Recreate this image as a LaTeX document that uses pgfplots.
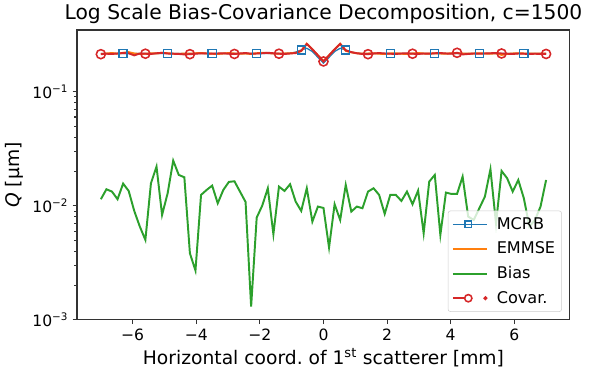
\documentclass[border=0pt]{standalone}
\usepackage{fontspec}
\setmainfont{DejaVu Sans}
\usepackage{pgfplots}
\usepackage{pgfplotstable}
\pgfplotsset{compat=1.18}
\definecolor{tabblue}{HTML}{1F77B4}
\definecolor{taborange}{HTML}{FF7F0E}
\definecolor{tabgreen}{HTML}{2CA02C}
\definecolor{tabred}{HTML}{D62728}
\pgfplotstableread{
x mcrb emmse bias covar
-7.000 0.216 0.214 0.01142 0.213
-6.825 0.216 0.216 0.01397 0.215
-6.650 0.216 0.218 0.01332 0.214
-6.475 0.216 0.215 0.01142 0.216
-6.300 0.216 0.219 0.01566 0.218
-6.125 0.216 0.222 0.01350 0.217
-5.950 0.216 0.216 0.00902 0.208
-5.775 0.216 0.214 0.00658 0.216
-5.600 0.216 0.215 0.00503 0.215
-5.425 0.216 0.217 0.01577 0.214
-5.250 0.216 0.216 0.02206 0.217
-5.075 0.216 0.219 0.00832 0.219
-4.900 0.216 0.217 0.01289 0.216
-4.725 0.216 0.215 0.02490 0.215
-4.550 0.216 0.214 0.01865 0.214
-4.375 0.216 0.216 0.01779 0.212
-4.200 0.216 0.215 0.00384 0.213
-4.025 0.216 0.217 0.00271 0.215
-3.850 0.216 0.218 0.01246 0.217
-3.675 0.216 0.216 0.01377 0.216
-3.500 0.216 0.215 0.01503 0.215
-3.325 0.216 0.214 0.01053 0.216
-3.150 0.216 0.216 0.01377 0.217
-2.975 0.216 0.218 0.01620 0.215
-2.800 0.216 0.216 0.01641 0.214
-2.625 0.216 0.215 0.01332 0.216
-2.450 0.216 0.216 0.01082 0.218
-2.275 0.216 0.214 0.00131 0.215
-2.100 0.216 0.217 0.00789 0.216
-1.925 0.216 0.219 0.01005 0.217
-1.750 0.216 0.218 0.01425 0.219
-1.575 0.216 0.216 0.00564 0.217
-1.400 0.216 0.215 0.01474 0.215
-1.225 0.216 0.216 0.01350 0.214
-1.050 0.217 0.217 0.01545 0.216
-0.875 0.222 0.219 0.01089 0.218
-0.700 0.232 0.227 0.00902 0.228
-0.525 0.240 0.263 0.01425 0.262
-0.350 0.225 0.235 0.00727 0.235
-0.175 0.200 0.208 0.00985 0.208
0.000 0.178 0.185 0.00958 0.184
0.175 0.200 0.208 0.00431 0.208
0.350 0.225 0.235 0.01032 0.235
0.525 0.240 0.263 0.00752 0.262
0.700 0.232 0.228 0.01524 0.230
0.875 0.222 0.221 0.00890 0.222
1.050 0.217 0.217 0.00985 0.217
1.225 0.216 0.215 0.00952 0.214
1.400 0.216 0.216 0.01332 0.213
1.575 0.216 0.217 0.01425 0.216
1.750 0.216 0.215 0.01246 0.218
1.925 0.216 0.214 0.00850 0.216
2.100 0.216 0.216 0.01246 0.215
2.275 0.216 0.217 0.01246 0.214
2.450 0.216 0.215 0.01104 0.216
2.625 0.216 0.214 0.01332 0.217
2.800 0.216 0.216 0.01032 0.215
2.975 0.216 0.218 0.01360 0.214
3.150 0.216 0.216 0.00575 0.216
3.325 0.216 0.215 0.01630 0.215
3.500 0.216 0.217 0.01865 0.217
3.675 0.216 0.216 0.00556 0.218
3.850 0.216 0.215 0.01306 0.216
4.025 0.216 0.217 0.01271 0.215
4.200 0.216 0.218 0.01271 0.219
4.375 0.216 0.216 0.01803 0.212
4.550 0.216 0.215 0.00805 0.214
4.725 0.216 0.216 0.00752 0.216
4.900 0.216 0.217 0.00952 0.215
5.075 0.216 0.216 0.01204 0.216
5.250 0.216 0.215 0.02091 0.217
5.425 0.216 0.217 0.00700 0.218
5.600 0.216 0.210 0.02021 0.216
5.775 0.216 0.214 0.01743 0.215
5.950 0.216 0.216 0.01332 0.214
6.125 0.216 0.217 0.01685 0.216
6.300 0.216 0.216 0.01165 0.215
6.475 0.216 0.215 0.00658 0.214
6.650 0.216 0.216 0.00752 0.215
6.825 0.216 0.215 0.00985 0.214
7.000 0.216 0.215 0.01685 0.214
}\datatable
\pgfplotsset{
  mcrbleg/.style={legend image code/.code={%
    \draw[tabblue, line width=1pt, sharp corners] (0pt,0pt) -- (26pt,0pt);
    \draw[tabblue, line width=1pt, sharp corners] (9.3pt,-2.6pt) rectangle (14.5pt,2.6pt);}},
  orangeleg/.style={legend image code/.code={%
    \draw[taborange, line width=1.5pt] (0pt,0pt) -- (26pt,0pt);}},
  greenleg/.style={legend image code/.code={%
    \draw[tabgreen, line width=1.5pt] (0pt,0pt) -- (26pt,0pt);}},
  redleg/.style={legend image code/.code={%
    \draw[tabred, line width=1.6pt] (0pt,0pt) -- (9pt,0pt);
    \draw[tabred, line width=1.2pt, fill=white] (11.8pt,0pt) circle (2.8pt);
    \fill[tabred] (25pt,0pt) circle (0.7pt);}},
}
\begin{document}
\begin{tikzpicture}
\useasboundingbox (-59.3pt,-41.6pt) rectangle (401.2pt,246.4pt);
\begin{axis}[
  scale only axis, width=379.6pt, height=223.3pt,
  ymode=log, xmin=-7.75, xmax=7.75, ymin=1e-3, ymax=0.347,
  xtick={-6,-4,-2,0,2,4,6},
  xticklabels={−6,−4,−2,0,2,4,6},
  ytick={0.001,0.01,0.1},
  yticklabels={10\textsuperscript{−3},10\textsuperscript{−2},10\textsuperscript{−1}},
  tick align=outside, xtick pos=bottom, ytick pos=left,
  major tick length=3.3pt, minor tick length=2pt,
  every tick/.style={black!80, line width=0.8pt},
  axis line style={black!80, line width=0.8pt},
  tick label style={font=\fontsize{12}{14}\selectfont},
  label style={font=\fontsize{14.4}{17}\selectfont},
  xlabel style={yshift=1pt},
  title style={font=\fontsize{15.6}{18}\selectfont, yshift=-5pt},
  title={Log Scale Bias-Covariance Decomposition, c=1500},
  xlabel={Horizontal coord.\ of 1\textsuperscript{st} scatterer [mm]},
  ylabel={\textit{Q} [μm]},
  legend cell align=left,
  legend style={at={(1,0)}, anchor=south east, xshift=-6.2pt, yshift=6.2pt,
    draw=black!20, rounded corners=2pt, fill=white, fill opacity=0.8, text opacity=1,
    font=\fontsize{12.4}{14}\selectfont, row sep=4.2pt, inner sep=3pt},
]
\addplot[tabblue, line width=1pt, mark=square, mark size=3.1pt, mark repeat=8, mark phase=5,
  mark options={fill=none, line width=1pt, sharp corners}, mcrbleg]
  table[x=x, y=mcrb] {\datatable};
\addlegendentry{\hspace{5pt}MCRB}
\addplot[taborange, line width=1.5pt, no marks, orangeleg]
  table[x=x, y=emmse] {\datatable};
\addlegendentry{\hspace{5pt}EMMSE}
\addplot[tabgreen, line width=1.5pt, no marks, greenleg]
  table[x=x, y=bias] {\datatable};
\addlegendentry{\hspace{5pt}Bias}
\addplot[tabred, line width=1.5pt, mark=o, mark size=3.5pt, mark repeat=8, mark phase=1,
  mark options={fill=none, line width=1.2pt}, redleg]
  table[x=x, y=covar] {\datatable};
\addlegendentry{\hspace{5pt}Covar.}
\end{axis}
\end{tikzpicture}
\end{document}
